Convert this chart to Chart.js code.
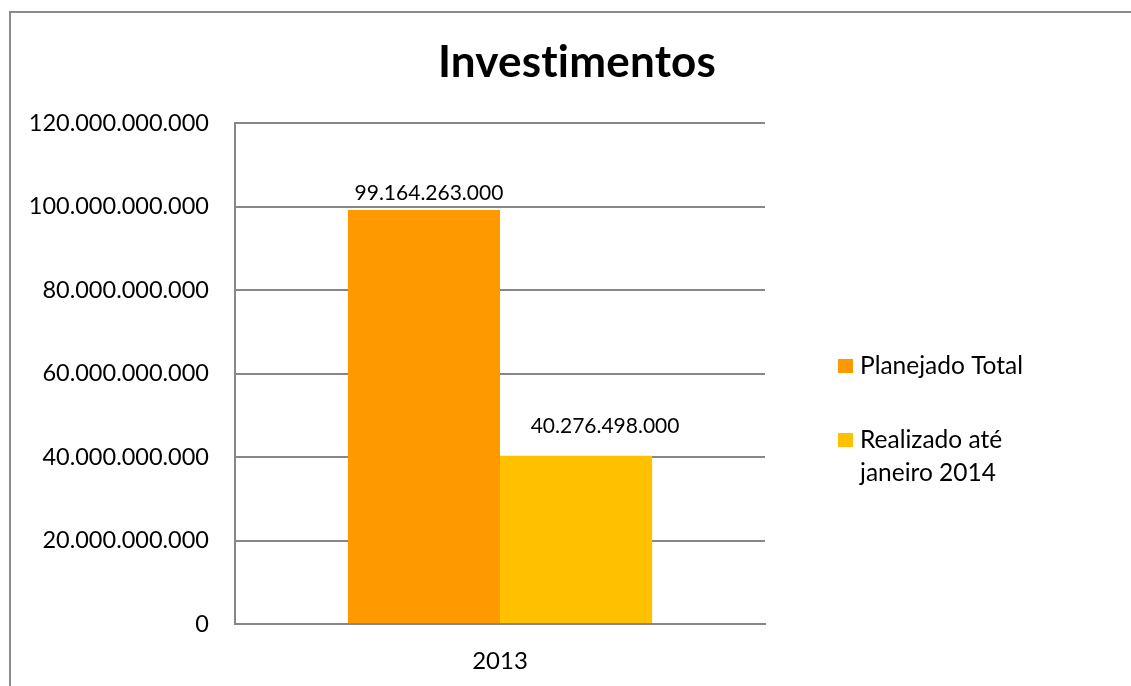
<!DOCTYPE html>
<html>
<head>
<meta charset="utf-8">
<title>Investimentos</title>
<script src="https://cdn.jsdelivr.net/npm/chart.js@4/dist/chart.umd.min.js"></script>
<style>
    html, body { margin: 0; padding: 0; background: #ffffff; }
    #wrap { position: relative; width: 1131px; height: 686px; }
</style>
</head>
<body>
<div id="wrap"><canvas id="investChart" width="1131" height="686"></canvas></div>
<script>
// ===== DATA =====
const categories = ['2013'];
const seriesNames = [['Planejado Total'], ['Realizado até', 'janeiro 2014']];
const planejadoValues = [99164263000];
const realizadoValues = [40276498000];
const yTicks = [0, 20000000000, 40000000000, 60000000000, 80000000000, 100000000000, 120000000000];
const chartTitle = 'Investimentos';

const FONT = 'Lato, "Open Sans", sans-serif';
const GRID = '#878787';

// 120000000000 -> "120.000.000.000"
function formatBR(v) {
    return String(Math.round(v)).replace(/\B(?=(\d{3})+(?!\d))/g, '.');
}

// outer frame (chart border, runs off the right/bottom edge) + title
const framePlugin = {
    id: 'frame',
    beforeDraw(chart) {
        const ctx = chart.ctx;
        ctx.save();
        ctx.strokeStyle = '#8a8a8a';
        ctx.lineWidth = 2;
        ctx.strokeRect(10, 12, chart.width + 20, chart.height + 20);
        ctx.fillStyle = '#000000';
        ctx.font = 'bold 44px ' + FONT;
        ctx.textAlign = 'center';
        ctx.textBaseline = 'middle';
        // tiny spacing so Lato doesn't use its "ti" ligature
        if ('letterSpacing' in ctx) ctx.letterSpacing = '0.2px';
        ctx.fillText(chartTitle, 577, 63);
        ctx.restore();
    }
};

// value labels above bars (Excel puts the second one a bit off-center)
const labelPlugin = {
    id: 'valueLabels',
    afterDatasetsDraw(chart) {
        const ctx = chart.ctx;
        const offsets = [{ dx: 5, dy: -17 }, { dx: 29, dy: -30 }];
        ctx.save();
        ctx.font = '21px ' + FONT;
        ctx.fillStyle = '#000000';
        ctx.textAlign = 'center';
        ctx.textBaseline = 'middle';
        chart.data.datasets.forEach(function(ds, i) {
            chart.getDatasetMeta(i).data.forEach(function(bar, j) {
                ctx.fillText(formatBR(ds.data[j]), bar.x + offsets[i].dx, bar.y + offsets[i].dy);
            });
        });
        ctx.restore();
    }
};

// legend on the right, with wrapped label
const legendPlugin = {
    id: 'sideLegend',
    afterDraw(chart) {
        const ctx = chart.ctx;
        const startY = [366, 440];
        const lineH = 33;
        ctx.save();
        ctx.font = '24.5px ' + FONT;
        ctx.textAlign = 'left';
        ctx.textBaseline = 'middle';
        chart.data.datasets.forEach(function(ds, i) {
            ctx.fillStyle = ds.backgroundColor;
            ctx.fillRect(838, startY[i] - 7, 15, 14);
            ctx.fillStyle = '#000000';
            seriesNames[i].forEach(function(line, k) {
                ctx.fillText(line, 860, startY[i] + k * lineH);
            });
        });
        ctx.restore();
    }
};

new Chart(document.getElementById('investChart'), {
    type: 'bar',
    data: {
        labels: categories,
        datasets: [
            {
                label: seriesNames[0].join(' '),
                data: planejadoValues,
                backgroundColor: '#FF9900',
                categoryPercentage: 0.574,
                barPercentage: 1.0
            },
            {
                label: seriesNames[1].join(' '),
                data: realizadoValues,
                backgroundColor: '#FFC000',
                categoryPercentage: 0.574,
                barPercentage: 1.0
            }
        ]
    },
    options: {
        responsive: false,
        animation: false,
        layout: { padding: { left: 0, right: 366, top: 123, bottom: 0 } },
        plugins: {
            legend: { display: false },
            tooltip: { enabled: false },
            title: { display: false }
        },
        scales: {
            x: {
                grid: { display: false, drawTicks: false },
                border: { display: true, color: GRID, width: 2 },
                ticks: {
                    color: '#000000',
                    font: { family: FONT, size: 24 },
                    padding: 23
                },
                afterFit(scale) { scale.height = 62; }
            },
            y: {
                min: 0,
                max: 120000000000,
                afterBuildTicks(scale) {
                    scale.ticks = yTicks.map(function(v) { return { value: v }; });
                },
                grid: { color: GRID, lineWidth: 2, drawTicks: false },
                border: { display: true, color: GRID, width: 2 },
                ticks: {
                    color: '#000000',
                    font: { family: FONT, size: 23.5 },
                    padding: 26,
                    callback: function(v) { return formatBR(v); }
                },
                afterFit(scale) { scale.width = 235; }
            }
        }
    },
    plugins: [framePlugin, labelPlugin, legendPlugin]
});
</script>
</body>
</html>
